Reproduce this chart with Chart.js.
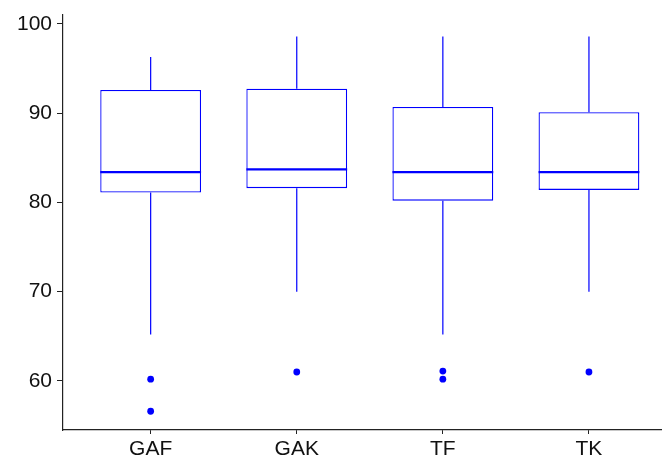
<!DOCTYPE html>
<html>
<head>
<meta charset="utf-8">
<script src="https://cdn.jsdelivr.net/npm/chart.js@4/dist/chart.umd.min.js"></script>
<style>
  html, body { margin: 0; padding: 0; background: #fff; }
  canvas { display: block; }
</style>
</head>
<body>
<canvas id="c" width="662" height="463"></canvas>
<script>
// Groups and five-number summaries (lower whisker, Q1, median, Q3, upper whisker)
const categories   = ['GAF', 'GAK', 'TF', 'TK'];
const whiskerLow   = [65.2, 70.0, 65.2, 70.0];
const q1           = [81.1, 81.6, 80.2, 81.4];
const median       = [83.4, 83.7, 83.4, 83.4];
const q3           = [92.6, 92.75, 90.7, 90.1];
const whiskerHigh  = [96.3, 98.6, 98.6, 98.6];
const outliers     = [[60.2, 56.6], [61.0], [61.1, 60.2], [61.0]];
const yTicks       = [60, 70, 80, 90, 100];

const BLUE = '#0000ff';
const BOX_FRACTION = 0.69;        // box width relative to group spacing
const HALF = BOX_FRACTION / 2;

// Boxes as floating bars from Q1 to Q3
const boxData = categories.map((c, i) => ({ x: i, y: [q1[i], q3[i]] }));

// Whiskers: vertical segments, separated by gaps
const whiskerData = [];
categories.forEach((c, i) => {
  whiskerData.push({ x: i, y: q3[i] }, { x: i, y: whiskerHigh[i] }, { x: i, y: null });
  whiskerData.push({ x: i, y: whiskerLow[i] }, { x: i, y: q1[i] }, { x: i, y: null });
});

// Median bars across each box
const medianData = [];
categories.forEach((c, i) => {
  medianData.push({ x: i - HALF, y: median[i] }, { x: i + HALF, y: median[i] }, { x: i, y: null });
});

// Outlying points
const outlierData = [];
outliers.forEach((list, i) => list.forEach(v => outlierData.push({ x: i, y: v })));

const FONT = { family: "'Liberation Sans', Arial, sans-serif", size: 21 };
const TEXT = '#111111';

new Chart(document.getElementById('c'), {
  data: {
    datasets: [
      {
        type: 'bar',
        data: boxData,
        backgroundColor: '#ffffff',
        borderColor: BLUE,
        borderWidth: 1.3,
        borderSkipped: false,
        categoryPercentage: 1,
        barPercentage: BOX_FRACTION,
        grouped: false,
        order: 3
      },
      {
        type: 'line',
        data: whiskerData,
        borderColor: BLUE,
        borderWidth: 1.2,
        pointRadius: 0,
        spanGaps: false,
        fill: false,
        order: 2
      },
      {
        type: 'line',
        data: medianData,
        borderColor: BLUE,
        borderWidth: 2.4,
        pointRadius: 0,
        spanGaps: false,
        fill: false,
        order: 1
      },
      {
        type: 'scatter',
        data: outlierData,
        backgroundColor: BLUE,
        borderWidth: 0,
        pointRadius: 3.4,
        order: 0
      }
    ]
  },
  options: {
    responsive: false,
    animation: false,
    devicePixelRatio: 1,
    layout: { autoPadding: false, padding: { top: 15, right: 0, bottom: 0, left: 0 } },
    plugins: { legend: { display: false }, tooltip: { enabled: false } },
    scales: {
      x: {
        type: 'linear',
        min: -0.6,
        max: 3.5,
        offset: false,
        afterBuildTicks: s => { s.ticks = categories.map((c, i) => ({ value: i })); },
        afterFit: s => { s.height = 33; s.paddingLeft = 0; s.paddingRight = 0; },
        ticks: {
          callback: v => categories[v],
          font: FONT,
          color: TEXT,
          padding: 3,
          maxRotation: 0,
          autoSkip: false
        },
        grid: { offset: false, drawOnChartArea: false, drawTicks: true, tickLength: 4, color: '#222', lineWidth: 1 },
        border: { display: true, color: '#222', width: 1.2 }
      },
      y: {
        type: 'linear',
        min: 54.5,
        max: 101,
        afterBuildTicks: s => { s.ticks = yTicks.map(v => ({ value: v })); },
        afterFit: s => { s.width = 63; s.paddingTop = 0; s.paddingBottom = 0; },
        ticks: {
          font: FONT,
          color: TEXT,
          padding: 5
        },
        grid: { drawOnChartArea: false, drawTicks: true, tickLength: 6, color: '#222', lineWidth: 1 },
        border: { display: true, color: '#222', width: 1.2 }
      }
    }
  }
});
</script>
</body>
</html>
